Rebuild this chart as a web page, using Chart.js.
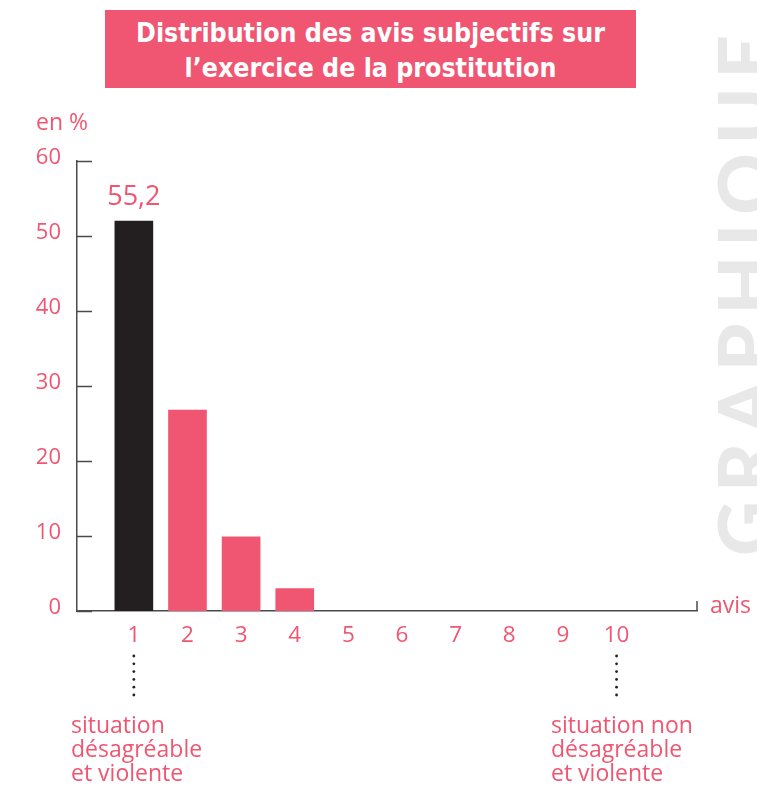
<!DOCTYPE html>
<html lang="fr">
<head>
<meta charset="utf-8">
<script src="https://cdn.jsdelivr.net/npm/chart.js@4.4.1/dist/chart.umd.min.js"></script>
<style>
  html, body { margin: 0; padding: 0; background: #ffffff; }
  body { width: 757px; height: 785px; position: relative; overflow: hidden; font-family: "Open Sans", "Noto Sans", sans-serif; }
  #chart { position: absolute; left: 0; top: 0; }
  .pink { color: #f05672; }
  #titlebox { position: absolute; left: 105px; top: 10px; width: 531px; height: 78px; background: #f05672; color: #fff;
    font-family: "Liberation Sans Narrow", "DejaVu Sans Condensed", sans-serif; font-weight: bold; font-size: 26.5px;
    line-height: 35px; text-align: center; padding-top: 5px; box-sizing: border-box; }
  #unit { position: absolute; left: 36px; top: 107px; font-size: 23px; line-height: 28px; }
  #avis { position: absolute; left: 710px; top: 590px; font-size: 23px; line-height: 28px; }
  .cap { position: absolute; top: 712px; font-size: 23px; line-height: 24px; }
  #capL { left: 71px; }
  #capR { left: 551px; }
  #wm { position: absolute; left: 706px; top: 556px; transform-origin: 0 0; transform: rotate(-90deg);
    font-family: Lato, "DejaVu Sans", sans-serif; font-weight: 900; font-size: 76px; line-height: 76px;
    color: #e8e8e8; letter-spacing: 9px; white-space: nowrap; }
</style>
</head>
<body>
<div id="wm">GRAPHIQUE 4</div>
<canvas id="chart" width="757" height="785"></canvas>
<div id="titlebox">Distribution des avis subjectifs sur<br>l’exercice de la prostitution</div>
<div id="unit" class="pink">en %</div>
<div id="avis" class="pink">avis</div>
<div id="capL" class="cap pink">situation<br>désagréable<br>et violente</div>
<div id="capR" class="cap pink">situation non<br>désagréable<br>et violente</div>
<script>
const categories = [1, 2, 3, 4, 5, 6, 7, 8, 9, 10];
const values = [52, 26.8, 9.9, 3.0, 0, 0, 0, 0, 0, 0];
const barLabels = ['55,2', '', '', '', '', '', '', '', '', ''];
const barColors = ['#231f20', '#f05672', '#f05672', '#f05672', '#f05672', '#f05672', '#f05672', '#f05672', '#f05672', '#f05672'];
const yTicks = [0, 10, 20, 30, 40, 50, 60];
const dottedCats = [1, 10];

const PINK = '#f05672';
const AXIS = '#4a4a4a';
const FONT = '"Open Sans", "Noto Sans", sans-serif';

const decor = {
  id: 'decor',
  afterDraw(chart) {
    const ctx = chart.ctx;
    const x = chart.scales.x, y = chart.scales.y;
    ctx.save();
    ctx.strokeStyle = AXIS; ctx.lineWidth = 1.5;
    yTicks.forEach(v => {
      const py = Math.round(y.getPixelForValue(v)) + 0.5;
      ctx.beginPath(); ctx.moveTo(x.left, py); ctx.lineTo(x.left + 15, py); ctx.stroke();
    });
    const by = y.getPixelForValue(0);
    ctx.beginPath(); ctx.moveTo(x.right, by); ctx.lineTo(x.right, by - 10); ctx.stroke();
    const meta = chart.getDatasetMeta(0);
    ctx.fillStyle = PINK; ctx.font = '27px ' + FONT; ctx.textAlign = 'center'; ctx.textBaseline = 'bottom';
    meta.data.forEach((bar, i) => {
      if (barLabels[i]) ctx.fillText(barLabels[i], bar.x, bar.y - 10);
    });
    ctx.fillStyle = '#222';
    dottedCats.forEach(c => {
      const px = x.getPixelForValue(c);
      for (let k = 0; k < 6; k++) {
        ctx.beginPath(); ctx.arc(px, 656 + k * 7.8, 1.4, 0, Math.PI * 2); ctx.fill();
      }
    });
    ctx.restore();
  }
};

new Chart(document.getElementById('chart'), {
  type: 'bar',
  data: {
    datasets: [{
      data: categories.map((c, i) => ({ x: c, y: values[i] > 0 ? values[i] : null })),
      backgroundColor: barColors,
      barThickness: 38,
      borderWidth: 0
    }]
  },
  options: {
    responsive: false,
    animation: false,
    plugins: { legend: { display: false }, tooltip: { enabled: false } },
    layout: { padding: { left: 0, top: 161, right: 60, bottom: 0 } },
    scales: {
      x: {
        type: 'linear',
        offset: false,
        min: -0.06, max: 11.5,
        afterBuildTicks: s => { s.ticks = categories.map(v => ({ value: v })); },
        afterFit: s => { s.height = 174; },
        grid: { display: false, drawTicks: false, offset: false },
        border: { display: true, color: AXIS, width: 1.5 },
        ticks: { color: PINK, font: { family: FONT, size: 22.5 }, padding: 11, maxRotation: 0, autoSkip: false,
          callback: v => String(v) }
      },
      y: {
        min: 0, max: 60,
        afterBuildTicks: s => { s.ticks = yTicks.map(v => ({ value: v })); },
        afterFit: s => { s.width = 77; },
        grid: { display: false, drawTicks: false },
        border: { display: true, color: AXIS, width: 1.5 },
        ticks: { color: PINK, font: { family: FONT, size: 22 }, padding: 16, labelOffset: -3 }
      }
    }
  },
  plugins: [decor]
});
</script>
</body>
</html>
